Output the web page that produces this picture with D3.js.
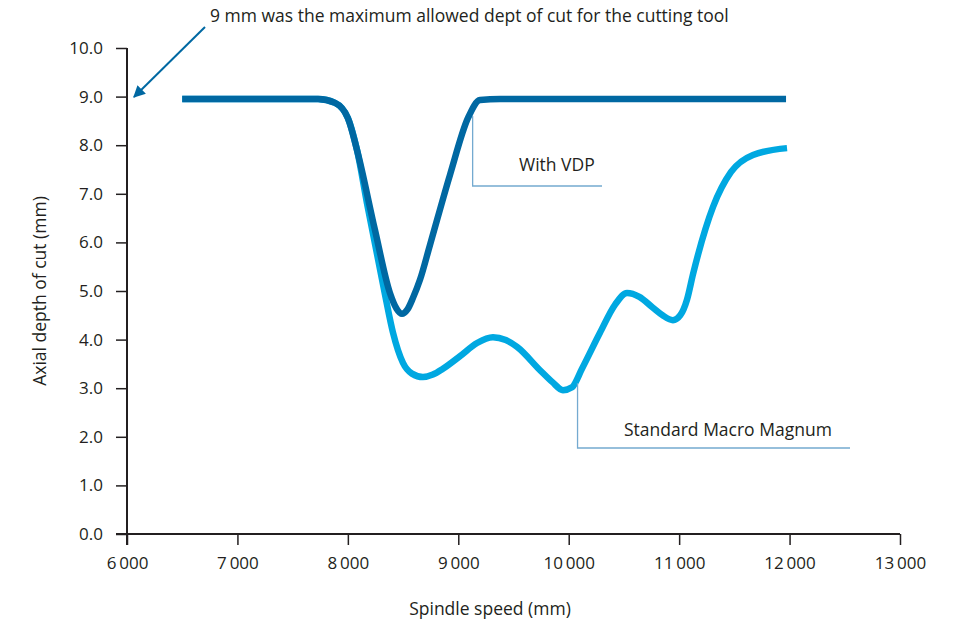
<!DOCTYPE html>
<html><head><meta charset="utf-8">
<script src="https://cdn.jsdelivr.net/npm/d3@7"></script>
<style>
body{margin:0;background:#fff;}
text{font-family:"Open Sans","DejaVu Sans",sans-serif;fill:#231f20;}
</style></head>
<body>
<svg id="chart" width="960" height="623"></svg>
<script>
const xTicks=[6000,7000,8000,9000,10000,11000,12000,13000];
const yTicks=[0,1,2,3,4,5,6,7,8,9,10];
const vdpSpeed=[6500,7730,7884,8000,8083,8245,8381,8440,8490,8540,8590,8653,8744,8925,9088,9197,9380,11968];
const vdpDepth=[8.95,8.95,8.87,8.56,7.9,6.26,4.96,4.64,4.53,4.62,4.86,5.23,5.95,7.39,8.56,8.93,8.95,8.95];
const stdSpeed=[6500,7730,7884,8000,8083,8173,8336,8409,8499,8580,8680,8770,8861,9016,9170,9314,9430,9532,9740,9850,9948,10030,10120,10283,10420,10528,10640,10760,10850,10944,11010,11071,11126,11307,11470,11669,11977];
const stdDepth=[8.95,8.95,8.87,8.56,7.9,6.81,4.93,4.14,3.52,3.30,3.23,3.28,3.40,3.66,3.93,4.05,3.99,3.85,3.37,3.13,2.96,3.02,3.40,4.14,4.72,4.96,4.88,4.66,4.50,4.40,4.50,4.82,5.35,6.73,7.45,7.80,7.94];
const seriesNames=["With VDP","Standard Macro Magnum"];
const annotation="9 mm was the maximum allowed dept of cut for the cutting tool";

const svg=d3.select("#chart");
const x=d3.scaleLinear().domain([6000,13000]).range([127,900]);
const y=d3.scaleLinear().domain([0,10]).range([534,48]);
const fmtX=d=>d3.format(",")(d).replace(",","\u2009");

// axes
const gx=svg.append("g").attr("transform","translate(0,534)")
  .call(d3.axisBottom(x).tickValues(xTicks).tickFormat(fmtX).tickSize(11).tickPadding(12));
const gy=svg.append("g").attr("transform","translate(127,0)")
  .call(d3.axisLeft(y).tickValues(yTicks).tickFormat(d3.format(".1f")).tickSize(11).tickPadding(13));
[gx,gy].forEach(g=>{
  g.select(".domain").remove();
  g.selectAll(".tick line").attr("stroke","#231f20").attr("stroke-width",1.5);
  g.selectAll(".tick text").attr("font-size",17).attr("fill","#231f20")
    .attr("font-family",'"Open Sans","DejaVu Sans",sans-serif');
});
svg.append("line").attr("x1",116).attr("x2",900).attr("y1",534).attr("y2",534).attr("stroke","#231f20").attr("stroke-width",2);
svg.append("line").attr("x1",127).attr("x2",127).attr("y1",48).attr("y2",545).attr("stroke","#231f20").attr("stroke-width",2);

// lines
const line=d3.line().x(d=>x(d[0])).y(d=>y(d[1])).curve(d3.curveMonotoneX);
svg.append("path").datum(d3.zip(stdSpeed,stdDepth)).attr("d",line)
  .attr("fill","none").attr("stroke","#00a8e1").attr("stroke-width",6.5).attr("stroke-linecap","butt");
svg.append("path").datum(d3.zip(vdpSpeed,vdpDepth)).attr("d",line)
  .attr("fill","none").attr("stroke","#0068a2").attr("stroke-width",6.5).attr("stroke-linecap","butt");

// leader lines
const lead="#74aad0";
svg.append("path").attr("d",`M${x(9130)},${y(8.6)}V186H602`).attr("fill","none").attr("stroke",lead).attr("stroke-width",1.3);
svg.append("text").attr("x",519).attr("y",171).attr("font-size",17.5).text(seriesNames[0]);
svg.append("path").attr("d",`M${x(10080)},${y(3.1)}V448H850`).attr("fill","none").attr("stroke",lead).attr("stroke-width",1.3);
svg.append("text").attr("x",624).attr("y",436).attr("font-size",17.5).text(seriesNames[1]);

// annotation arrow
const defs=svg.append("defs");
defs.append("marker").attr("id","ah").attr("viewBox","0 0 10 10").attr("refX",9).attr("refY",5)
  .attr("markerWidth",6).attr("markerHeight",6).attr("markerUnits","strokeWidth").attr("orient","auto")
  .append("path").attr("d","M0,0L10,5L0,10Z").attr("fill","#0068a2");
svg.append("line").attr("x1",205).attr("y1",27).attr("x2",134).attr("y2",97)
  .attr("stroke","#0068a2").attr("stroke-width",2).attr("marker-end","url(#ah)");
svg.append("text").attr("x",210).attr("y",22).attr("font-size",17.5).text(annotation);

// axis titles
svg.append("text").attr("x",490).attr("y",615).attr("text-anchor","middle").attr("font-size",17.5).text("Spindle speed (mm)");
svg.append("text").attr("transform","translate(46,291) rotate(-90)").attr("text-anchor","middle").attr("font-size",17.5).text("Axial depth of cut (mm)");
</script>
</body></html>
